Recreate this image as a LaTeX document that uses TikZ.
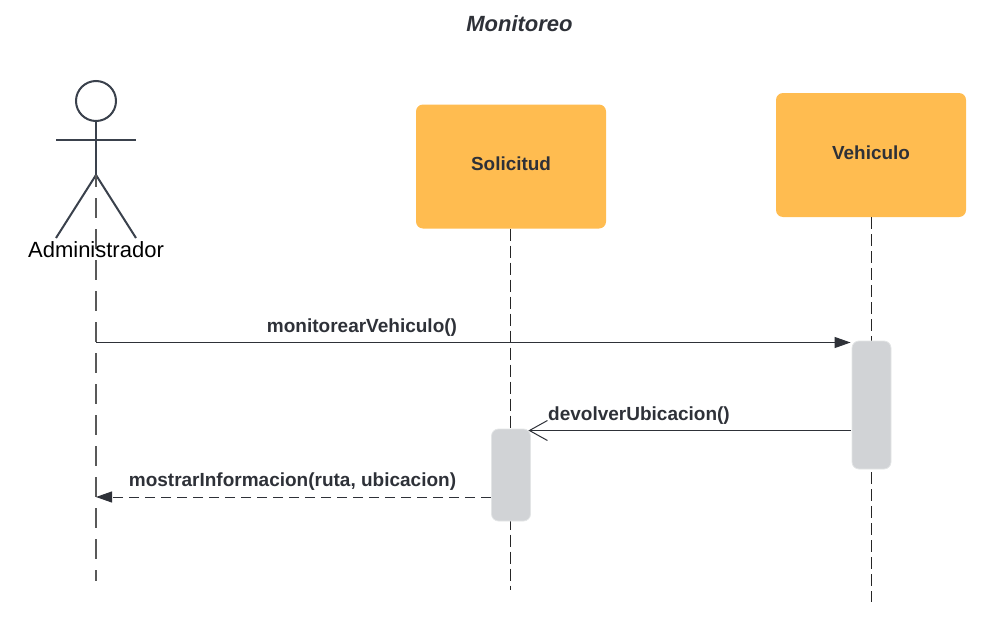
\documentclass[tikz,border=0pt]{standalone}
\usepackage{fontspec}
\setmainfont{Liberation Sans}
\usetikzlibrary{arrows.meta,positioning}
\definecolor{boxorange}{HTML}{FFBC50}
\definecolor{actgray}{HTML}{D1D3D6}
\definecolor{inkdark}{HTML}{2E3138}
\definecolor{actorline}{HTML}{3A414C}
\tikzset{
	lifebox/.style={rectangle,rounded corners=7pt,fill=boxorange,minimum width=190pt,minimum height=124pt,inner sep=0pt,text=inkdark,font=\fontsize{18.9}{20}\selectfont\bfseries},
	actbar/.style={rectangle,rounded corners=7pt,fill=actgray,draw=actgray!60,line width=0.8pt,minimum width=39pt,inner sep=0pt},
	lifeline/.style={draw=black!85,line width=1pt,dash pattern=on 12pt off 5pt},
	msgtext/.style={inner sep=0pt,text=inkdark,font=\fontsize{19}{20}\selectfont\bfseries},
	msg/.style={draw=inkdark,line width=1pt},
	limb/.style={draw=actorline,line width=2pt},
}
\begin{document}
\begin{tikzpicture}[x=1pt,y=-1pt]
	\useasboundingbox (0,0) rectangle (994,637);

	\node[inner sep=0pt,text=inkdark,font=\fontsize{22}{24}\selectfont\bfseries\itshape] (title) at (519.5,24) {Monitoreo};

	% lifeline heads
	\node[lifebox] (solicitud) at (511,166.5) {\raisebox{5pt}{Solicitud}};
	\node[lifebox] (vehiculo) at (871,155) {\raisebox{5pt}{Vehiculo}};

	% actor
	\node[circle,limb,minimum size=40pt,inner sep=0pt] (head) at (96,101) {};
	\coordinate (shoulder) at (96,140);
	\coordinate (armL) at (56,140);
	\coordinate (armR) at (136,140);
	\coordinate (hip) at (96,175);
	\coordinate (legL) at (56,238);
	\coordinate (legR) at (136,238);
	\draw[limb] (head) -- (hip);
	\draw[limb] (armL) -- (armR);
	\draw[limb] (legL) -- (hip) -- (legR);

	% lifelines
	\coordinate (actorEnd) at (96,581);
	\coordinate (solicitudEnd) at (510.5,590);
	\coordinate (vehiculoEnd) at (871,602);
	\draw[lifeline,draw=black!65,line width=2pt,dash pattern=on 20pt off 11pt,dash phase=8pt] (hip) -- (actorEnd);
	\draw[lifeline] (solicitud.south -| solicitudEnd) -- (solicitudEnd);
	\draw[lifeline] (vehiculo.south) -- (vehiculoEnd);

	\node[inner sep=0pt,font=\fontsize{22}{24}\selectfont] (admin) at (96,250) {Administrador};

	% activations
	\node[actbar,minimum height=128pt] (actVehiculo) at (871.5,405) {};
	\node[actbar,minimum height=92pt] (actSolicitud) at (511,475) {};

	% messages
	\coordinate (m1) at (96,342.5);
	\coordinate (m3) at (96,497);
	\coordinate (m2) at (851,430.5);
	\draw[msg,shorten >=1pt,-{Triangle[length=16pt,width=11pt]}] (m1) -- (m1 -| actVehiculo.west);
	\draw[msg,shorten >=-2.5pt,-{Straight Barb[length=18pt,width=20pt,line width=1pt]}] (m2) -- (m2 -| actSolicitud.east);
	\draw[msg,dash pattern=on 10pt off 6pt,-{Triangle[length=16pt,width=11pt]}] (actSolicitud.west |- m3) -- (m3);

	\node[msgtext] (lblMonitorear) at (362,328) {monitorearVehiculo()};
	\node[msgtext] (lblDevolver) at (639,416) {devolverUbicacion()};
	\node[msgtext] (lblMostrar) at (292.5,482) {mostrarInformacion(ruta, ubicacion)};
\end{tikzpicture}
\end{document}
